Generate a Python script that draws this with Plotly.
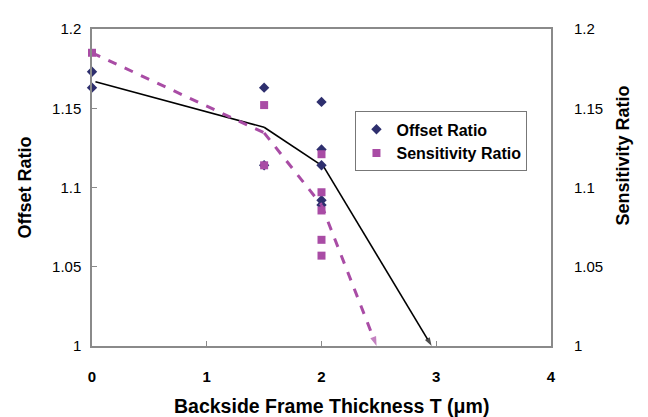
import plotly.graph_objects as go

# Measured points
offset_x = [0, 0, 1.5, 1.5, 2, 2, 2, 2, 2]
offset_y = [1.173, 1.163, 1.163, 1.114, 1.154, 1.124, 1.114, 1.092, 1.089]
sens_x = [0, 1.5, 1.5, 2, 2, 2, 2, 2]
sens_y = [1.185, 1.152, 1.114, 1.121, 1.097, 1.0855, 1.067, 1.057]

# Trend lines (ending in arrows)
offset_line_x = [0.03, 1.5, 2.02, 2.96]
offset_line_y = [1.1667, 1.138, 1.113, 1.0]
sens_line_x = [0, 1.5, 2.0, 2.48]
sens_line_y = [1.185, 1.1345, 1.089, 1.0]

x_ticks = [0, 1, 2, 3, 4]
y_ticks = [1, 1.05, 1.1, 1.15, 1.2]
y_tick_text = ["1", "1.05", "1.1", "1.15", "1.2"]

NAVY = "#2E2F6E"
MAG = "#A94CA5"
FONT = "Arial, Liberation Sans, sans-serif"
AX = "#8a8a8a"

fig = go.Figure()

def arrow_marker(n, size, color):
    return dict(symbol="arrow", angleref="previous",
                size=[0] * (n - 1) + [size], color=color, line=dict(width=0))

fig.add_trace(go.Scatter(x=offset_line_x, y=offset_line_y, mode="lines+markers",
                         line=dict(color="black", width=1.6),
                         marker=arrow_marker(len(offset_line_x), 9, "black"),
                         showlegend=False, cliponaxis=False, hoverinfo="skip"))
fig.add_trace(go.Scatter(x=offset_x, y=offset_y, mode="markers", name="Offset Ratio",
                         marker=dict(symbol="diamond", size=8, color=NAVY),
                         cliponaxis=False))
fig.add_trace(go.Scatter(x=sens_line_x, y=sens_line_y, mode="lines+markers", yaxis="y2",
                         line=dict(color=MAG, width=3, dash="dash"),
                         marker=arrow_marker(len(sens_line_x), 10, MAG),
                         showlegend=False, cliponaxis=False, hoverinfo="skip"))
fig.add_trace(go.Scatter(x=sens_x, y=sens_y, mode="markers", name="Sensitivity Ratio",
                         yaxis="y2",
                         marker=dict(symbol="square", size=8, color=MAG),
                         cliponaxis=False))

fig.update_layout(
    width=640, height=409,
    margin=dict(l=84, r=97, t=12, b=71),
    paper_bgcolor="white", plot_bgcolor="white",
    font=dict(family=FONT, color="black"),
    xaxis=dict(range=[0, 4], tickvals=x_ticks, ticks="inside", ticklen=5, tickcolor=AX,
               showline=True, linecolor=AX, linewidth=1.5, mirror=True,
               showgrid=False, zeroline=False, ticklabelstandoff=16,
               tickfont=dict(size=15, weight="bold")),
    yaxis=dict(range=[1, 1.2], tickvals=y_ticks, ticktext=y_tick_text,
               ticks="inside", ticklen=5, tickcolor=AX,
               showline=True, linecolor=AX, linewidth=1.5, mirror=True,
               showgrid=False, zeroline=False, ticklabelstandoff=6,
               tickfont=dict(size=15)),
    yaxis2=dict(range=[1, 1.2], tickvals=y_ticks, ticktext=y_tick_text,
                overlaying="y", side="right", ticks="", showline=False,
                showgrid=False, zeroline=False, ticklabelstandoff=22,
                tickfont=dict(size=15)),
    legend=dict(x=0.574, y=0.74, xanchor="left", yanchor="top",
                bordercolor="#777", borderwidth=1, bgcolor="white",
                font=dict(size=16, weight="bold"), itemwidth=30,
                tracegroupgap=0),
    annotations=[
        dict(text="<b>Backside Frame Thickness T (μm)</b>", xref="paper", yref="paper",
             x=0.521, y=-0.19, showarrow=False, font=dict(size=19.5),
             xanchor="center", yanchor="middle"),
        dict(text="<b>Offset Ratio</b>", xref="paper", yref="paper",
             x=-0.146, y=0.5, showarrow=False, font=dict(size=18), textangle=-90,
             xanchor="center", yanchor="middle"),
        dict(text="<b>Sensitivity Ratio</b>", xref="paper", yref="paper",
             x=1.157, y=0.601, showarrow=False, font=dict(size=18), textangle=-90,
             xanchor="center", yanchor="middle"),
    ],
)

fig.write_html("out.html")
